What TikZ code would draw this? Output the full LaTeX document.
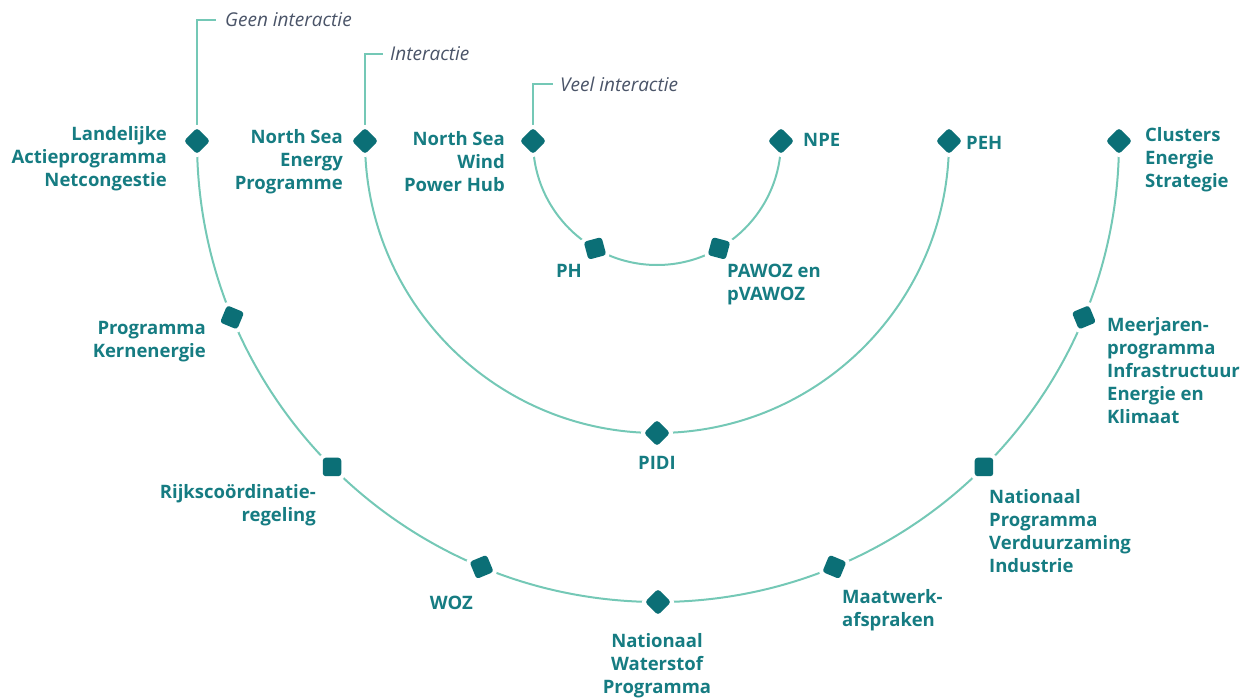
\documentclass[tikz,border=0pt]{standalone}
\usepackage{fontspec}
\setmainfont{Open Sans}
\definecolor{arcc}{HTML}{74C8B6}
\definecolor{mkc}{HTML}{0B6F76}
\definecolor{txc}{HTML}{167C82}
\definecolor{gry}{HTML}{4A5468}
\begin{document}
\begin{tikzpicture}[x=1pt,y=-1pt,
  arcl/.style={draw=arcc, line width=2pt},
  mk/.style={rectangle, minimum size=18.5pt, inner sep=0pt, rounded corners=3pt, fill=mkc, preaction={draw=white, line width=8pt}},
  lbl/.style={font=\fontsize{18.5}{23}\selectfont\bfseries, text=txc, inner sep=0pt},
  lr/.style={lbl, align=right, anchor=north east},
  ll/.style={lbl, align=left, anchor=north west},
  lc/.style={lbl, align=center, anchor=north},
  itl/.style={font=\fontsize{19}{22}\selectfont\itshape, text=gry, anchor=west, inner sep=0pt}]
\useasboundingbox (0,0) rectangle (1245,698);
% points
\foreach \i/\a in {1/0,2/22.5,3/45,4/67.5,5/90,6/112.5,7/135,8/157.5,9/180}{
  \coordinate (o\i) at ({658-461*cos(\a)},{141+461*sin(\a)});
}
\foreach \i/\a in {1/0,2/90,3/180}{
  \coordinate (m\i) at ({657-292*cos(\a)},{141+292*sin(\a)});
}
\foreach \i/\a in {1/0,2/60,3/120,4/180}{
  \coordinate (n\i) at ({657-124*cos(\a)},{141+124*sin(\a)});
}
% arcs
\draw[arcl] (o1) arc[start angle=180, end angle=0, radius=461];
\draw[arcl] (m1) arc[start angle=180, end angle=0, radius=292];
\draw[arcl] (n1) arc[start angle=180, end angle=0, radius=124];
% leader labels
\node[itl] (t1) at (225,20) {Geen interactie};
\node[itl] (t2) at (390,54) {Interactie};
\node[itl] (t3) at (560,84) {Veel interactie};
\draw[arcl] (o1) |- ([xshift=-9pt]t1.west);
\draw[arcl] (m1) |- ([xshift=-7pt]t2.west);
\draw[arcl] (n1) |- ([xshift=-7pt]t3.west);
% markers
\foreach \i/\a in {1/0,2/22.5,3/45,4/67.5,5/90,6/112.5,7/135,8/157.5,9/180}{
  \node[mk, rotate={45+\a}] (O\i) at (o\i) {};
}
\foreach \i/\a in {1/0,2/90,3/180}{
  \node[mk, rotate={45+\a}] (M\i) at (m\i) {};
}
\foreach \i/\a in {1/0,2/60,3/120,4/180}{
  \node[mk, rotate={45+\a}] (N\i) at (n\i) {};
}
% labels
\node[lr] (L1) at (167,126) {Landelijke\\Actieprogramma\\Netcongestie};
\node[lr] (L2) at (343,129) {North Sea\\Energy\\Programme};
\node[lr] (L3) at (505,131) {North Sea\\Wind\\Power Hub};
\node[ll] (L4) at (803,133) {NPE};
\node[ll] (L5) at (966,136) {PEH};
\node[ll] (L6) at (1145,127) {Clusters\\Energie\\Strategie};
\node[lr] (L7) at (582,264) {PH};
\node[ll] (L8) at (727,264) {PAWOZ en\\pVAWOZ};
\node[lr] (L9) at (206,321) {Programma\\Kernenergie};
\node[ll] (L10) at (1107,317) {Meerjaren-\\programma\\Infrastructuur\\Energie en\\Klimaat};
\node[lr] (L11) at (316,484) {Rijkscoördinatie-\\regeling};
\node[ll] (L12) at (989,489) {Nationaal\\Programma\\Verduurzaming\\Industrie};
\node[lr] (L13) at (473,596) {WOZ};
\node[ll] (L14) at (842,589) {Maatwerk-\\afspraken};
\node[lc] (L15) at (657,633) {Nationaal\\Waterstof\\Programma};
\node[lc] (L16) at (657,456) {PIDI};
\end{tikzpicture}
\end{document}
